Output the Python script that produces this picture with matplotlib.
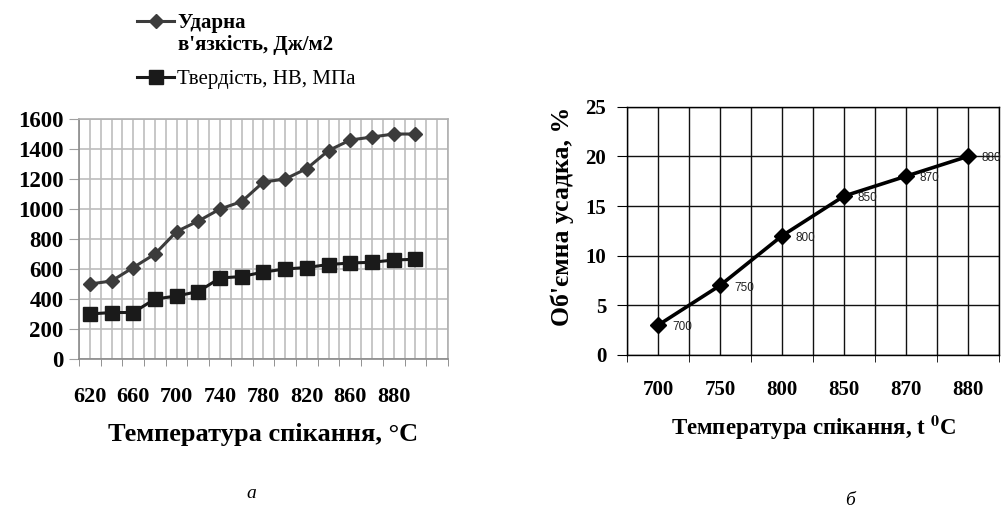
import matplotlib
matplotlib.use('Agg')
import matplotlib.pyplot as plt
import numpy as np

plt.rcParams['font.family'] = ['Liberation Serif', 'DejaVu Serif']
plt.rcParams['mathtext.fontset'] = 'stix'

# ---------------- дані: графік а ----------------
temp_a = ['620', '640', '660', '680', '700', '720', '740', '760', '780',
          '800', '820', '840', '860', '870', '880', '890', '']
udarna = [500, 520, 610, 700, 850, 920, 1000, 1050, 1180, 1200, 1270,
          1390, 1460, 1480, 1500, 1500]
tverdist = [300, 310, 310, 400, 420, 450, 540, 550, 580, 600, 610,
            630, 640, 645, 660, 665]
yticks_a = [0, 200, 400, 600, 800, 1000, 1200, 1400, 1600]

# ---------------- дані: графік б ----------------
temp_b = ['700', '750', '800', '850', '870', '880']
usadka = [3, 7, 12, 16, 18, 20]
yticks_b = [0, 5, 10, 15, 20, 25]

fig = plt.figure(figsize=(10.01, 5.08), dpi=100)

# ================= графік а =================
ax1 = fig.add_axes([0.0789, 0.2933, 0.3686, 0.4724])
n = len(temp_a)
xa = np.arange(len(udarna))
ax1.plot(xa, udarna, '-D', color='#3c3c3c', lw=2.2, markersize=7.5,
         label='Ударна')
ax1.plot(xa, tverdist, '-s', color='#1a1a1a', lw=2.2, markersize=10,
         label='Твердість, НВ, МПа')
ax1.set_xlim(-0.5, n - 0.5)
ax1.set_ylim(0, 1600)
ax1.set_xticks(range(n), labels=[t if i % 2 == 0 else '' for i, t in enumerate(temp_a)])
ax1.set_xticks(np.arange(n + 1) - 0.5, minor=True)
ax1.set_yticks(yticks_a)
ax1.tick_params(axis='x', which='major', length=0, pad=20, labelsize=16)
ax1.tick_params(axis='x', which='minor', length=5, color='#808080')
ax1.tick_params(axis='y', length=7, color='#a0a0a0', labelsize=16.5, pad=4)
for lab in ax1.get_xticklabels() + ax1.get_yticklabels():
    lab.set_fontweight('bold')
ax1.grid(True, which='both', color='#bdbdbd', lw=1.2)
ax1.set_axisbelow(True)
for s in ax1.spines.values():
    s.set_color('#b0b0b0')
    s.set_linewidth(1.2)
ax1.spines['bottom'].set_color('#8a8a8a')
ax1.spines['left'].set_color('#8a8a8a')
ax1.set_xlabel('Температура спікання, °С', fontsize=19, fontweight='bold', labelpad=12)

leg = ax1.legend(loc='upper left', frameon=False,
                 fontsize=15, handlelength=1.75, handletextpad=0.15,
                 labelspacing=1.75, borderaxespad=0)
leg.set_bbox_to_anchor((0.129, 0.991), transform=fig.transFigure)
leg.get_texts()[0].set_fontweight('bold')
# продовження першого підпису легенди
fig.text(0.178, 0.902, "в'язкість, Дж/м2", fontsize=15, fontweight='bold',
         ha='left', va='baseline')

fig.text(0.2507, 0.02, 'а', fontsize=14, style='italic', ha='center')

# ================= графік б =================
ax2 = fig.add_axes([0.6264, 0.3012, 0.3716, 0.4888])
xb = np.arange(len(usadka))
ax2.plot(xb, usadka, '-D', color='black', lw=2.6, markersize=8.5)
for x, y, t in zip(xb, usadka, temp_b):
    ax2.annotate(t, (x, y), xytext=(10, -1.5), textcoords='offset points',
                 fontsize=8.5, family='Liberation Sans', color='#222222',
                 va='center', ha='left', annotation_clip=False)
ax2.set_xlim(-0.5, len(temp_b) - 0.5)
ax2.set_ylim(0, 25)
ax2.set_xticks(xb, labels=temp_b)
ax2.set_xticks(np.arange(len(temp_b) + 1) - 0.5, minor=True)
ax2.set_yticks(yticks_b)
ax2.tick_params(axis='x', which='major', length=0, pad=18, labelsize=15)
ax2.tick_params(axis='x', which='minor', length=5, color='black')
ax2.tick_params(axis='y', length=7, color='black', labelsize=15, pad=8)
for lab in ax2.get_xticklabels() + ax2.get_yticklabels():
    lab.set_fontweight('bold')
ax2.grid(True, which='both', color='#111111', lw=1.0)
ax2.set_axisbelow(True)
for s in ax2.spines.values():
    s.set_color('black')
    s.set_linewidth(1.0)
ax2.set_xlabel('Температура спікання, t $^{\\mathbf{0}}$С', fontsize=16.5,
               fontweight='bold', labelpad=10)
ax2.set_ylabel("Об'ємна усадка, %", fontsize=18.5, fontweight='bold')
ax2.yaxis.set_label_coords(-0.143, 0.56)

fig.text(0.849, 0.005, 'б', fontsize=14, style='italic', ha='center')

fig.savefig('out.png', dpi=100)
